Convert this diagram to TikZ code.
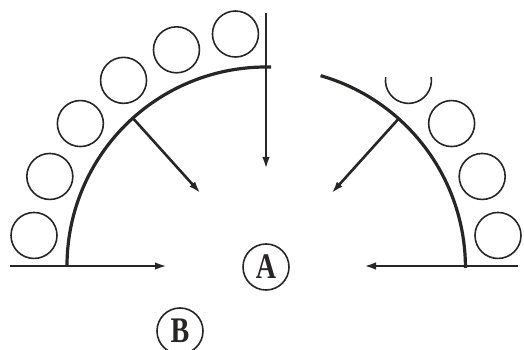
\documentclass[tikz,border=0pt]{standalone}
\usepackage{fontspec}
\setmainfont{Liberation Serif}
\usetikzlibrary{arrows.meta,calc}
\definecolor{ink}{RGB}{40,37,37}
\begin{document}
\begin{tikzpicture}[x=1pt,y=1pt,
  wall/.style={draw=ink,line width=3.2pt},
  push/.style={draw=ink,line width=2.6pt,-{Latex[length=12pt,width=7.5pt]}},
  ball/.style={draw=ink,line width=1.6pt},
  label/.style={circle,draw=ink,line width=1.6pt,minimum size=46pt,inner sep=0pt,text=ink,
    font=\fontsize{36}{36}\selectfont\bfseries}]
\useasboundingbox (0,0) rectangle (524,350);
\coordinate (O) at (266,84);
% walls
\draw[wall] (O) ++(180:199) arc[start angle=180,end angle=88.5,radius=199];
\draw[wall] (O) ++(74:198) arc[start angle=74,end angle=0,radius=200];
% named ends
\coordinate (vtop) at (266,337);
\coordinate (vtip) at ($(O)+(90:97)$);
\coordinate (lft) at (10,84);
\coordinate (lftip) at ($(O)+(180:99)$);
\coordinate (rgt) at (518,84);
\coordinate (rgtip) at ($(O)+(0:98)$);
\coordinate (nl) at ($(O)+(132:199)$);
\coordinate (nltip) at ($(O)+(132:98)$);
\coordinate (nr) at ($(O)+(48:198)$);
\coordinate (nrtip) at ($(O)+(48:98)$);
% pressure arrows
\draw[push] (vtop) -- (vtip);
\draw[push] (lft) -- (lftip);
\draw[push] (rgt) -- (rgtip);
\draw[push] (nl) -- (nltip);
\draw[push] (nr) -- (nrtip);
% balls
\foreach \a in {172.5,157.5,142.5,127.5,112.5,97.5,37.5,22.5,7.5}
  \draw[ball] ($(O)+(\a:234)$) circle[radius=23];
\draw[ball] ($(O)+(52.5:234)+(172:23)$) arc[start angle=172,end angle=368,radius=23];
% labels
\node[label] (A) at (266,83) {\scalebox{0.78}[1]{A}};
\node[label] (B) at (180,19) {\scalebox{0.78}[1]{B}};
\end{tikzpicture}
\end{document}
